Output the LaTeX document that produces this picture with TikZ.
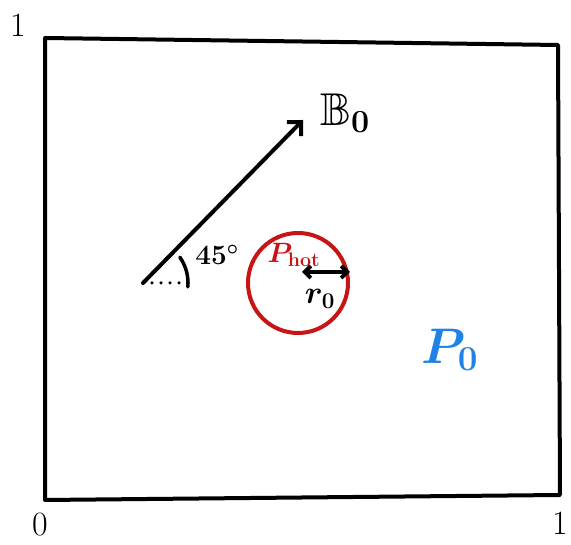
\RequirePackage{fix-cm}
\documentclass[tikz,border=0pt]{standalone}
\usepackage{amsmath,amssymb}
\usepackage{xcolor}
\usepackage{tikz}
\usetikzlibrary{arrows.meta}

\definecolor{hotred}{RGB}{200,20,20}
\definecolor{coldblue}{RGB}{30,130,230}

\begin{document}
\begin{tikzpicture}[x=1pt,y=1pt,>={Straight Barb[length=10pt,width=20pt]},line cap=round,
  thickline/.style={line width=4pt},
  bigtext/.style={font=\fontsize{46}{48}\selectfont},
  ticktext/.style={font=\fontsize{34}{36}\selectfont}]
  \useasboundingbox (0,0) rectangle (571,545);
  % domain
  \draw[thickline,line join=round] (45,45) -- (45,507) -- (558,500) -- (560,50) -- cycle;
  \node[ticktext] (ytop) at (18,520) {1};
  \node[ticktext] (xzero) at (40,20) {0};
  \node[ticktext] (xone) at (560,22) {1};
  % field direction
  \coordinate (orig) at (143,262);
  \coordinate (tip) at (303,425);
  \coordinate (horiz) at (190,262);
  \draw[thickline,->] (orig) -- (tip);
  \node[bigtext] (bfield) at (345,432) {$\boldsymbol{\mathbb{B}_0}$};
  \draw[line width=3.5pt,dash pattern=on 0pt off 9pt] (orig) -- (horiz);
  \draw[line width=3.5pt] (orig) ++(-5:45) arc (-5:35:45);
  \node[font=\fontsize{28}{30}\selectfont] (angle) at (217,290) {$\boldsymbol{45^\circ}$};
  % hot spot
  \node[draw=hotred,line width=4pt,circle,minimum size=100pt,inner sep=0pt] (hot) at (298,262) {};
  \node[hotred,font=\fontsize{28}{30}\selectfont] (phot) at (294,290) {$\boldsymbol{P_{\mathrm{hot}}}$};
  \coordinate (rin) at (302,273);
  \draw[thickline,<->,>={Straight Barb[length=6pt,width=12pt]}] (rin) -- (hot.east |- rin);
  \node[font=\fontsize{32}{34}\selectfont] (radius) at (320,246) {$\boldsymbol{r_0}$};
  % background pressure
  \node[coldblue,font=\fontsize{50}{52}\selectfont] (pzero) at (450,195) {$\boldsymbol{P_0}$};
\end{tikzpicture}
\end{document}
